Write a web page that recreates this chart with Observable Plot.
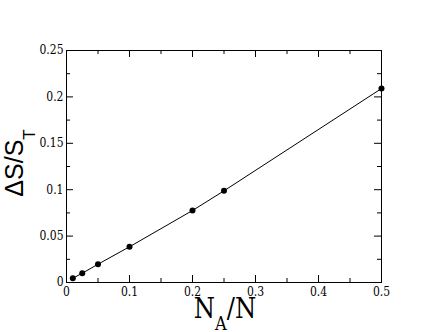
<!DOCTYPE html>
<html>
<head>
<meta charset="utf-8">
<script src="https://cdn.jsdelivr.net/npm/d3@7"></script>
<script src="https://cdn.jsdelivr.net/npm/@observablehq/plot@0.6"></script>
<style>
  html, body { margin: 0; padding: 0; background: white; }
</style>
</head>
<body>
<div id="chart"></div>
<script>
// Data
const nRatio = [0.01, 0.025, 0.05, 0.1, 0.2, 0.25, 0.5];
const deltaS = [0.0046, 0.0100, 0.0197, 0.0385, 0.0776, 0.0988, 0.209];

// Tick values
const xMajor = [0, 0.1, 0.2, 0.3, 0.4, 0.5];
const xMinor = [0.05, 0.15, 0.25, 0.35, 0.45];
const yMajor = [0, 0.05, 0.1, 0.15, 0.2, 0.25];
const yMinor = [0.025, 0.075, 0.125, 0.175, 0.225];

const points = nRatio.map((x, i) => ({x, y: deltaS[i]}));

const W = 430, H = 332;
const mL = 66, mR = 49, mT = 50, mB = 50;
const pw = W - mL - mR, ph = H - mT - mB;
const majorLen = 7, minorLen = 4;
const serif = "'DejaVu Serif Condensed', 'DejaVu Serif', serif";

const svg = Plot.plot({
  width: W,
  height: H,
  marginLeft: mL,
  marginRight: mR,
  marginTop: mT,
  marginBottom: mB,
  style: {background: "white", color: "black"},
  x: {domain: [0, 0.5]},
  y: {domain: [0, 0.25]},
  marks: [
    Plot.axisX({ticks: xMajor, tickSize: 0, tickPadding: 5, tickFormat: d => String(d), label: null, fill: "black", fontFamily: serif, fontSize: 12}),
    Plot.axisY({ticks: yMajor, tickSize: 0, tickPadding: 3, tickFormat: d => String(d), label: null, fill: "black", fontFamily: serif, fontSize: 12}),
    // inward ticks on all four sides
    Plot.ruleX(xMajor, {x: d => d, insetTop: ph - majorLen, stroke: "black"}),
    Plot.ruleX(xMinor, {x: d => d, insetTop: ph - minorLen, stroke: "black"}),
    Plot.ruleX(xMajor, {x: d => d, insetBottom: ph - majorLen, stroke: "black"}),
    Plot.ruleX(xMinor, {x: d => d, insetBottom: ph - minorLen, stroke: "black"}),
    Plot.ruleY(yMajor, {y: d => d, insetRight: pw - majorLen, stroke: "black"}),
    Plot.ruleY(yMinor, {y: d => d, insetRight: pw - minorLen, stroke: "black"}),
    Plot.ruleY(yMajor, {y: d => d, insetLeft: pw - majorLen, stroke: "black"}),
    Plot.ruleY(yMinor, {y: d => d, insetLeft: pw - minorLen, stroke: "black"}),
    Plot.frame({stroke: "black"}),
    Plot.line(points, {x: "x", y: "y", stroke: "black", strokeWidth: 1}),
    Plot.dot(points, {x: "x", y: "y", r: 3, fill: "black", stroke: "none"})
  ]
});

// Axis titles with subscripts
const s = d3.select(svg);
const xt = s.append("text")
  .attr("x", 225).attr("y", 318)
  .attr("text-anchor", "middle")
  .style("font-family", serif)
  .attr("font-size", 27)
  .attr("fill", "black");
xt.append("tspan").text("N");
xt.append("tspan").attr("font-size", 18).attr("dy", 12).text("A");
xt.append("tspan").attr("dy", -12).text("/N");

const yt = s.append("text")
  .attr("transform", "translate(23,163) rotate(-90)")
  .attr("text-anchor", "middle")
  .style("font-family", "'Liberation Sans', Arial, sans-serif")
  .attr("font-size", 25)
  .attr("fill", "black");
yt.append("tspan").text("ΔS/S");
yt.append("tspan").attr("font-size", 17).attr("dy", 12).text("T");

document.getElementById("chart").appendChild(svg);
</script>
</body>
</html>
